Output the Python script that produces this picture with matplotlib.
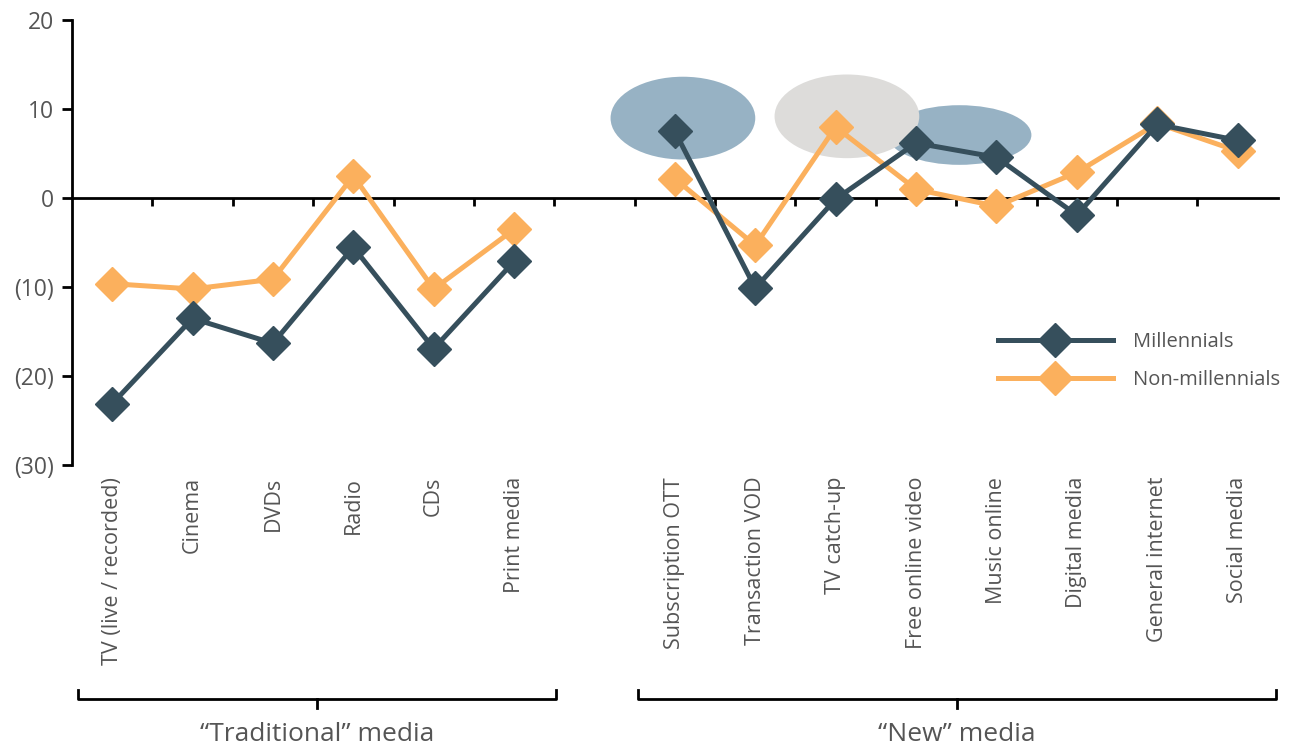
import numpy as np
import matplotlib.pyplot as plt
from matplotlib.patches import Ellipse
from matplotlib.lines import Line2D
from matplotlib.transforms import blended_transform_factory

plt.rcParams['font.family'] = ['Open Sans', 'DejaVu Sans']

traditional = ['TV (live / recorded)', 'Cinema', 'DVDs', 'Radio', 'CDs', 'Print media']
new_media = ['Subscription OTT', 'Transaction VOD', 'TV catch-up', 'Free online video',
             'Music online', 'Digital media', 'General internet', 'Social media']

millennials_trad = [-23.1, -13.5, -16.3, -5.5, -16.9, -7.1]
millennials_new = [7.5, -10.1, -0.1, 6.2, 4.6, -1.9, 8.3, 6.5]
non_millennials_trad = [-9.6, -10.2, -9.1, 2.5, -10.2, -3.5]
non_millennials_new = [2.2, -5.3, 8.0, 1.0, -0.9, 2.9, 8.4, 5.3]

yticks = [20, 10, 0, -10, -20, -30]

dark = '#364F5C'
orange = '#FBB05D'
grey_txt = '#555555'

# one empty slot between the two groups
x_trad = np.arange(len(traditional))
x_new = np.arange(len(new_media)) + len(traditional) + 1
n_slots = len(traditional) + 1 + len(new_media)

fig = plt.figure(figsize=(12.92, 7.48), dpi=100)
ax = fig.add_axes([0.0557, 0.378, 0.9333, 0.595])

# highlight ellipses behind the lines
ax.add_patch(Ellipse((7.1, 9.0), 1.8, 9.3, color='#97B2C4', lw=0, zorder=1))
ax.add_patch(Ellipse((10.54, 7.1), 1.79, 6.7, color='#97B2C4', lw=0, zorder=1))
ax.add_patch(Ellipse((9.14, 9.2), 1.8, 9.4, color='#DDDCDA', lw=0, zorder=1))

style = dict(marker='D', markersize=17, lw=3.6, zorder=3)
ax.plot(x_trad, non_millennials_trad, color=orange, **style)
ax.plot(x_new, non_millennials_new, color=orange, **style)
ax.plot(x_trad, millennials_trad, color=dark, **style)
ax.plot(x_new, millennials_new, color=dark, **style)

ax.set_xlim(-0.5, n_slots - 0.5)
ax.set_ylim(-30, 20)

for s in ['top', 'right']:
    ax.spines[s].set_visible(False)
ax.spines['bottom'].set_position(('data', 0))
ax.spines['bottom'].set_zorder(2)
for s in ['left', 'bottom']:
    ax.spines[s].set_linewidth(2)
    ax.spines[s].set_color('black')

ax.set_xticks(np.arange(0.5, n_slots - 1, 1.0))
ax.set_xticklabels([])
ax.tick_params(axis='x', direction='out', length=6, width=2)
ax.set_yticks(yticks)
ax.set_yticklabels([str(v) if v >= 0 else '(%d)' % -v for v in yticks])
ax.tick_params(axis='y', direction='out', length=7, width=2, labelsize=16.5,
               labelcolor=grey_txt, pad=6)

# category labels under the plot
tr = blended_transform_factory(ax.transData, ax.transAxes)
for xi, name in zip(list(x_trad) + list(x_new), traditional + new_media):
    ax.text(xi, -0.026, name, transform=tr, rotation=90, ha='center', va='top',
            fontsize=15.5, color=grey_txt)

# group brackets
tb = blended_transform_factory(ax.transData, fig.transFigure)
groups = [(-0.42, 5.52, '\u201cTraditional\u201d media'), (6.54, 14.48, '\u201cNew\u201d media')]
for x0, x1, label in groups:
    xm = (x0 + x1) / 2
    fig.add_artist(Line2D([x0, x0, x1, x1], [0.0775, 0.0655, 0.0655, 0.0775], transform=tb,
                          color='black', lw=2))
    fig.add_artist(Line2D([xm, xm], [0.0655, 0.0535], transform=tb, color='black', lw=2))
    fig.text(xm, 0.018, label, transform=tb, ha='center', va='center',
             fontsize=19, color=grey_txt)

handles = [Line2D([], [], color=dark, **style), Line2D([], [], color=orange, **style)]
ax.legend(handles, ['Millennials', 'Non-millennials'], loc='center left',
          bbox_to_anchor=(0.753, 0.235), frameon=False, handlelength=5.7,
          fontsize=14.5, labelcolor=grey_txt, labelspacing=0.9, handletextpad=1.0)

fig.savefig('out.png', dpi=100)
